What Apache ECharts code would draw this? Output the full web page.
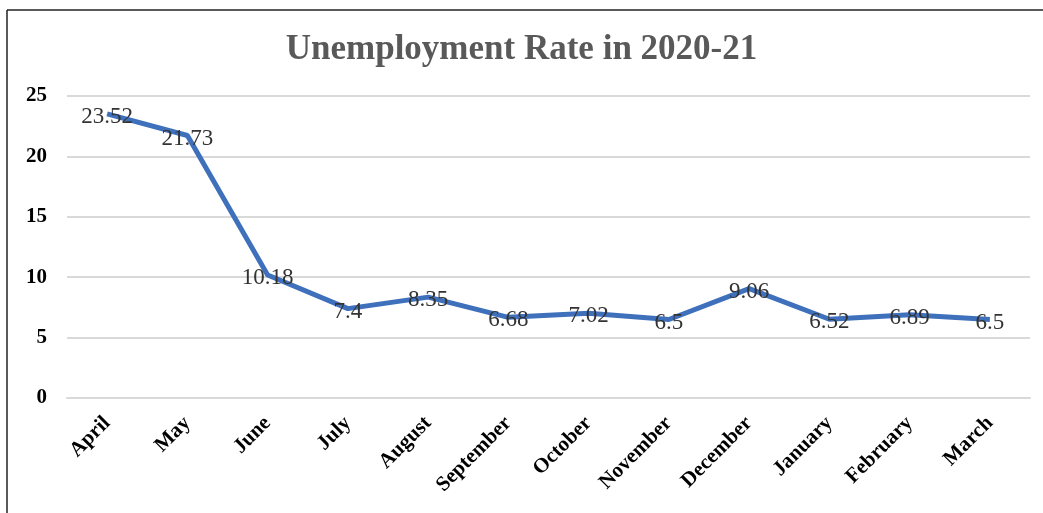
<!DOCTYPE html>
<html>
<head>
<meta charset="utf-8">
<script src="https://cdn.jsdelivr.net/npm/echarts@6/dist/echarts.min.js"></script>
<style>
  html, body { margin: 0; padding: 0; background: #fff; }
  #chart { width: 1043px; height: 513px; }
</style>
</head>
<body>
<div id="chart"></div>
<script>
// months of the fiscal year
const months = ['April', 'May', 'June', 'July', 'August', 'September',
  'October', 'November', 'December', 'January', 'February', 'March'];
// unemployment rate, %
const rates = [23.52, 21.73, 10.18, 7.4, 8.35, 6.68, 7.02, 6.5, 9.06, 6.52, 6.89, 6.5];
const yTicks = [0, 5, 10, 15, 20, 25];

const serif = '"Liberation Serif", "DejaVu Serif", serif';
const lineBlue = '#3F70BC';

const chart = echarts.init(document.getElementById('chart'));

chart.setOption({
  animation: false,
  backgroundColor: '#fff',
  title: {
    text: 'Unemployment Rate in 2020-21',
    left: 'center',
    top: 27,
    textStyle: {
      fontFamily: serif,
      fontWeight: 'bold',
      fontSize: 35,
      color: '#595959'
    }
  },
  grid: { left: 67, right: 13, top: 96, bottom: 115 },
  xAxis: {
    type: 'category',
    data: months,
    boundaryGap: true,
    axisLine: { lineStyle: { color: '#D9D9D9', width: 2 } },
    axisTick: { show: false },
    axisLabel: {
      rotate: 45,
      margin: 22,
      fontFamily: serif,
      fontWeight: 'bold',
      fontSize: 21,
      color: '#000'
    }
  },
  yAxis: {
    type: 'value',
    min: yTicks[0],
    max: yTicks[yTicks.length - 1],
    interval: 5,
    axisLine: { show: false },
    axisTick: { show: false },
    splitLine: { lineStyle: { color: '#D9D9D9', width: 2 } },
    axisLabel: {
      margin: 20,
      fontFamily: serif,
      fontWeight: 'bold',
      fontSize: 21,
      color: '#000'
    }
  },
  series: [{
    type: 'line',
    data: rates,
    symbol: 'circle',
    symbolSize: 2,
    itemStyle: { color: 'rgba(0,0,0,0)' },
    lineStyle: { color: lineBlue, width: 5 },
    label: {
      show: true,
      position: 'inside',
      offset: [0, 3],
      fontFamily: serif,
      fontSize: 23,
      color: '#333'
    }
  }],
  graphic: [
    { type: 'line', shape: { x1: 7, y1: 10, x2: 1043, y2: 10 }, style: { stroke: '#222', lineWidth: 1.5 } },
    { type: 'line', shape: { x1: 7, y1: 10, x2: 7, y2: 513 }, style: { stroke: '#222', lineWidth: 1.5 } }
  ]
});
</script>
</body>
</html>
